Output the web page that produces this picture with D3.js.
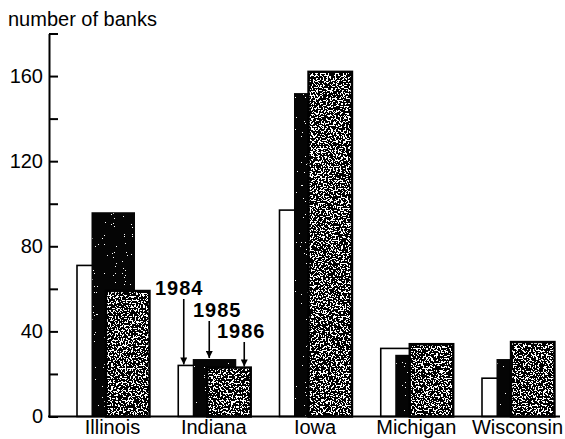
<!DOCTYPE html>
<meta charset="utf-8">
<style>
body {
    margin: 0px;
    background: white;
    font-family: "Liberation Sans", Arial, sans-serif;
}
.axis text {
  font-size: 20px;
  fill: black;
}
.cat-label {
  font-size: 20px;
}
.year-label {
  font-size: 20px;
  font-weight: 700;
  letter-spacing: 1px;
}
</style>
<body>
<script src="https://d3js.org/d3.v7.min.js"></script>
<script>
var width = 565,
    height = 439

// data
var categories = ["Illinois", "Indiana", "Iowa", "Michigan", "Wisconsin"]
var years = ["1984", "1985", "1986"]
var banks1984 = [71, 24, 97, 32, 18]
var banks1985 = [96, 27, 152, 29, 27]
var banks1986 = [59, 23, 162, 34, 35]
var yTicks = [0, 20, 40, 60, 80, 100, 120, 140, 160, 180]

var series = [banks1984, banks1985, banks1986]

var svg = d3.select("body").append("svg")
    .attr("width", width)
    .attr("height", height)

var defs = svg.append("defs")

// grainy stipple for the 1986 bars
var stip = defs.append("filter")
    .attr("id", "stipple")
    .attr("x", 0).attr("y", 0).attr("width", 1).attr("height", 1)
stip.append("feTurbulence")
    .attr("type", "fractalNoise")
    .attr("baseFrequency", 0.6)
    .attr("numOctaves", 2)
    .attr("seed", 7)
stip.append("feColorMatrix")
    .attr("type", "matrix")
    .attr("values", "0 0 0 0 0  0 0 0 0 0  0 0 0 0 0  -7 0 0 0 4.35")
stip.append("feComponentTransfer")
  .append("feFuncA")
    .attr("type", "discrete")
    .attr("tableValues", "0 1")
stip.append("feComposite")
    .attr("operator", "in")
    .attr("in2", "SourceGraphic")

// a few white specks on the black bars
var speck = defs.append("filter")
    .attr("id", "speck")
    .attr("x", 0).attr("y", 0).attr("width", 1).attr("height", 1)
speck.append("feTurbulence")
    .attr("type", "fractalNoise")
    .attr("baseFrequency", 0.9)
    .attr("numOctaves", 2)
    .attr("seed", 3)
speck.append("feColorMatrix")
    .attr("type", "matrix")
    .attr("values", "0 0 0 0 1  0 0 0 0 1  0 0 0 0 1  8 0 0 0 -5.6")
speck.append("feComponentTransfer")
  .append("feFuncA")
    .attr("type", "discrete")
    .attr("tableValues", "0 1")
speck.append("feComposite")
    .attr("operator", "in")
    .attr("in2", "SourceGraphic")

var y = d3.scaleLinear()
    .domain([0, 180])
    .range([416.5, 33.5])

var x = d3.scalePoint()
    .domain(categories)
    .range([112.5, 517.5])

// left edge of each year's bar relative to the group centre
var off = d3.scalePoint()
    .domain(years)
    .range([-35.5, -6.5])

var barW = 43.5

// y axis, ticks pointing inward
var yAxis = d3.axisLeft(y)
    .tickValues(yTicks)
    .tickSizeInner(-9)
    .tickSizeOuter(0)
    .tickPadding(6)
    .tickFormat(function(d) { return d % 40 === 0 && d < 180 ? d : "" })

var gy = svg.append("g")
    .attr("class", "axis")
    .attr("transform", "translate(49,0)")
    .call(yAxis)
gy.select(".domain").attr("stroke-width", 2)
gy.selectAll(".tick line").attr("stroke-width", 2)
gy.selectAll("text").attr("font-family", null).attr("font-size", null)

svg.append("text")
    .attr("x", 8)
    .attr("y", 26)
    .style("font-size", "20px")
    .text("number of banks")

// bars, one year after the other so later years sit on top
series.forEach(function(vals, i) {
    var yr = years[i]
    var g = svg.append("g").attr("class", "bars y" + yr)
    categories.forEach(function(c, j) {
        var x0 = x(c) + off(yr),
            y0 = y(vals[j]),
            h = y(0) - y0
        if (i === 0) {
            g.append("rect")
                .attr("x", x0).attr("y", y0)
                .attr("width", barW).attr("height", h)
                .attr("fill", "white")
                .attr("stroke", "black")
                .attr("stroke-width", 1.6)
        } else if (i === 1) {
            g.append("rect")
                .attr("x", x0).attr("y", y0)
                .attr("width", barW).attr("height", h)
                .attr("fill", "#050505")
            g.append("rect")
                .attr("x", x0 + 1).attr("y", y0 + 1)
                .attr("width", barW - 2).attr("height", h - 1)
                .attr("fill", "white")
                .attr("filter", "url(#speck)")
        } else {
            g.append("rect")
                .attr("x", x0).attr("y", y0)
                .attr("width", barW).attr("height", h)
                .attr("fill", "white")
            g.append("rect")
                .attr("x", x0).attr("y", y0)
                .attr("width", barW).attr("height", h)
                .attr("fill", "black")
                .attr("filter", "url(#stipple)")
            g.append("rect")
                .attr("x", x0).attr("y", y0)
                .attr("width", barW).attr("height", h)
                .attr("fill", "none")
                .attr("stroke", "black")
                .attr("stroke-width", 2.4)
        }
    })
})

// baseline
svg.append("line")
    .attr("x1", 48).attr("x2", 560)
    .attr("y1", y(0)).attr("y2", y(0))
    .attr("stroke", "black")
    .attr("stroke-width", 2)

// category labels
svg.selectAll(".cat-label")
    .data(categories)
    .enter()
    .append("text")
    .attr("class", "cat-label")
    .attr("x", function(d) { return x(d) })
    .attr("y", 434)
    .attr("text-anchor", "middle")
    .text(function(d) { return d })

// year call-outs on Indiana
defs.append("marker")
    .attr("id", "arrow")
    .attr("viewBox", "0 0 10 10")
    .attr("refX", 10).attr("refY", 5)
    .attr("markerWidth", 10).attr("markerHeight", 7)
    .attr("markerUnits", "userSpaceOnUse")
    .attr("orient", "auto")
  .append("path")
    .attr("d", "M0,0L10,5L0,10z")
    .attr("fill", "black")

var callX = [5.5, 31, 66]    // arrow x from group's left edge
var textX = [155, 193, 217]
var textY = [295, 317, 338]
var ind = categories.indexOf("Indiana")
var gl = x("Indiana") + off("1984")

years.forEach(function(yr, i) {
    svg.append("text")
        .attr("class", "year-label")
        .attr("x", textX[i])
        .attr("y", textY[i])
        .text(yr)
    svg.append("line")
        .attr("x1", gl + callX[i]).attr("x2", gl + callX[i])
        .attr("y1", textY[i] + 4)
        .attr("y2", y(series[i][ind]) - 1)
        .attr("stroke", "black")
        .attr("stroke-width", 1.6)
        .attr("marker-end", "url(#arrow)")
})
</script>
